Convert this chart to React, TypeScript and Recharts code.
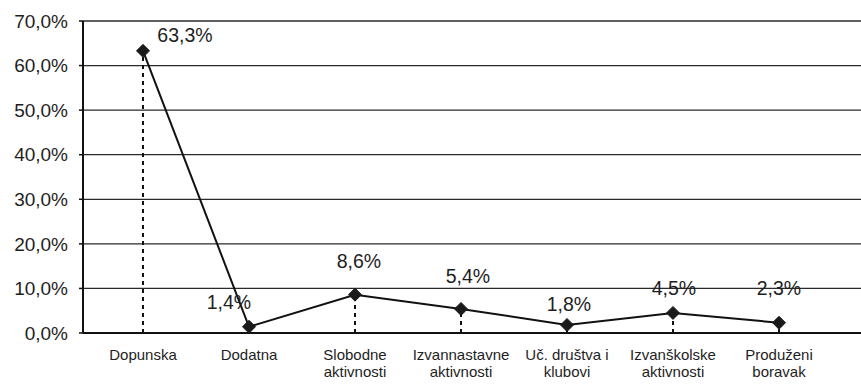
import React from "react";
import {
  LineChart,
  Line,
  XAxis,
  YAxis,
  CartesianGrid,
  ReferenceLine,
} from "recharts";

const categories = [
  "Dopunska",
  "Dodatna",
  "Slobodne\naktivnosti",
  "Izvannastavne\naktivnosti",
  "Uč. društva i\nklubovi",
  "Izvanškolske\naktivnosti",
  "Produženi\nboravak",
];
const values = [63.3, 1.4, 8.6, 5.4, 1.8, 4.5, 2.3];
const yTicks = [0, 10, 20, 30, 40, 50, 60, 70];

const data = categories.map((c, i) => ({ cat: c, v: values[i] }));

const FONT = "'Liberation Sans', Arial, Helvetica, sans-serif";
const TEXT = "#1e1e1e";

// label nudges (style only): [dx, dy] relative to the point
const LABEL_NUDGE: [number, number][] = [
  [42, -9],
  [-20, -18],
  [4, -27],
  [7, -26],
  [2, -14],
  [1, -18],
  [0, -28],
];

const fmt = (v: number) => v.toFixed(1).replace(".", ",") + "%";

const Diamond = (props: any) => {
  const { cx, cy } = props;
  if (cx == null || cy == null) return null;
  const r = 6.5;
  return (
    <polygon
      points={`${cx},${cy - r} ${cx + r},${cy} ${cx},${cy + r} ${cx - r},${cy}`}
      fill="#1a1a1a"
      stroke="#1a1a1a"
    />
  );
};

const XTick = (props: any) => {
  const { x, y, payload } = props;
  const lines = String(payload.value).split("\n");
  return (
    <text
      x={x}
      y={y}
      textAnchor="middle"
      fontFamily={FONT}
      fontSize={15}
      fill={TEXT}
    >
      {lines.map((l, i) => (
        <tspan key={i} x={x} dy={i === 0 ? 27 : 17}>
          {l}
        </tspan>
      ))}
    </text>
  );
};

const ValueLabel = (props: any) => {
  const { x, y, value, index } = props;
  const [dx, dy] = LABEL_NUDGE[index] || [0, -22];
  return (
    <text
      x={x + dx}
      y={y + dy}
      textAnchor="middle"
      fontFamily={FONT}
      fontSize={19.5}
      fill={TEXT}
    >
      {fmt(value)}
    </text>
  );
};

export default function App() {
  return (
    <div style={{ position: "absolute", left: 0, top: 0, background: "#fff" }}>
      <LineChart
        width={861}
        height={384}
        data={data}
        margin={{ top: 21, right: 0, bottom: 11, left: 0 }}
      >
        <CartesianGrid
          vertical={false}
          stroke="#2a2a2a"
          strokeWidth={1.3}
          horizontalValues={yTicks}
        />
        <XAxis
          dataKey="cat"
          interval={0}
          height={40}
          padding={{ left: 60, right: 82 }}
          tickLine={false}
          tickSize={0}
          tickMargin={0}
          axisLine={{ stroke: "#111", strokeWidth: 2 }}
          tick={<XTick />}
        />
        <YAxis
          width={83}
          domain={[0, 70]}
          ticks={yTicks}
          interval={0}
          tickFormatter={fmt}
          tickSize={4}
          tickMargin={11}
          tickLine={{ stroke: "#111", strokeWidth: 1.5 }}
          axisLine={{ stroke: "#111", strokeWidth: 2 }}
          tick={{ fontFamily: FONT, fontSize: 19, fill: TEXT }}
        />
        {data.map((d) => (
          <ReferenceLine
            key={d.cat}
            segment={[
              { x: d.cat, y: 0 },
              { x: d.cat, y: d.v },
            ]}
            stroke="#111"
            strokeWidth={2}
            strokeDasharray="4 4"
          />
        ))}
        <Line
          dataKey="v"
          stroke="#111"
          strokeWidth={2}
          dot={<Diamond />}
          activeDot={false}
          isAnimationActive={false}
          label={<ValueLabel />}
        />
      </LineChart>
    </div>
  );
}
